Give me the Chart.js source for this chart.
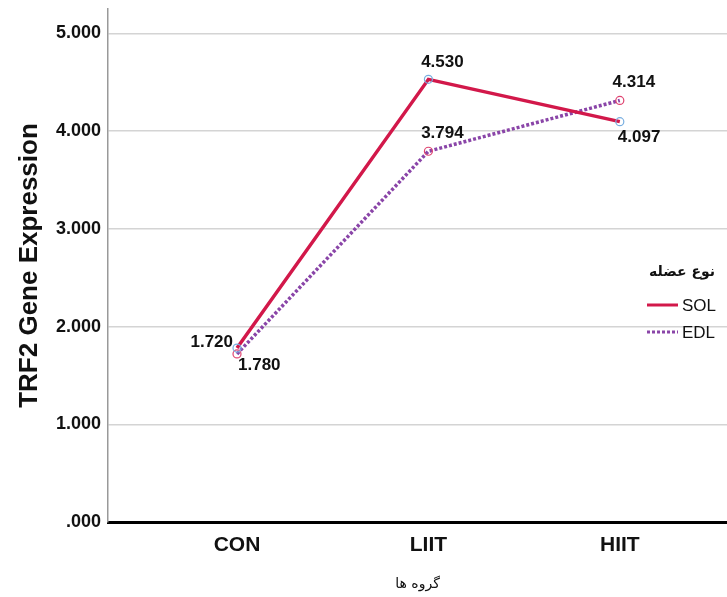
<!DOCTYPE html>
<html>
<head>
<meta charset="utf-8">
<script src="https://cdn.jsdelivr.net/npm/chart.js@4"></script>
<style>
  html, body { margin: 0; padding: 0; background: #fff; }
  #wrap { width: 727px; height: 597px; }
</style>
</head>
<body>
<div id="wrap"><canvas id="lineChart" width="727" height="597"></canvas></div>
<script>
        // Chart data
        const groups = ['CON', 'LIIT', 'HIIT'];
        const solValues = [1.780, 4.530, 4.097];
        const edlValues = [1.720, 3.794, 4.314];
        const yTicks = [0, 1, 2, 3, 4, 5];
        const legendTitle = 'نوع عضله';
        const xTitle = 'گروه ها';
        const yTitle = 'TRF2 Gene Expression';

        const SOL_COLOR = '#d2184a';
        const EDL_COLOR = '#8a45a8';

        // Value labels: where each number sits next to its point
        const labelPlacement = {
            SOL: [{ dx: -4, dy: -6, align: 'right' }, { dx: 14, dy: -17, align: 'center' }, { dx: -2, dy: 16, align: 'left' }],
            EDL: [{ dx: 1, dy: 11, align: 'left' }, { dx: 14, dy: -18, align: 'center' }, { dx: 14, dy: -18, align: 'center' }]
        };
        // SPSS put the numbers slightly swapped at CON; keep the picture's layout
        const labelText = {
            SOL: ['1.720', '4.530', '4.097'],
            EDL: ['1.780', '3.794', '4.314']
        };

        const fmt = v => (v === 0 ? '.000' : v.toFixed(3));

        const valueLabels = {
            id: 'valueLabels',
            afterDatasetsDraw(chart) {
                const { ctx, scales: { x, y } } = chart;
                ctx.save();
                ctx.font = 'bold 17px "Liberation Sans", Arial, sans-serif';
                ctx.fillStyle = '#111';
                ctx.textBaseline = 'middle';
                [['SOL', solValues], ['EDL', edlValues]].forEach(([name, vals]) => {
                    vals.forEach((v, i) => {
                        const p = labelPlacement[name][i];
                        ctx.textAlign = p.align;
                        ctx.fillText(labelText[name][i], x.getPixelForValue(i) + p.dx, y.getPixelForValue(v) + p.dy);
                    });
                });
                ctx.restore();
            }
        };

        const sideLegend = {
            id: 'sideLegend',
            afterDraw(chart) {
                const { ctx } = chart;
                ctx.save();
                ctx.fillStyle = '#111';
                ctx.textBaseline = 'middle';
                ctx.textAlign = 'right';
                ctx.font = 'bold 14px "DejaVu Sans", sans-serif';
                ctx.fillText(legendTitle, 715, 272);
                ctx.font = '17px "Liberation Sans", Arial, sans-serif';
                ctx.textAlign = 'left';
                ctx.fillText('SOL', 682, 306);
                ctx.fillText('EDL', 682, 333);
                ctx.lineWidth = 3;
                ctx.strokeStyle = SOL_COLOR;
                ctx.beginPath();
                ctx.moveTo(647, 305);
                ctx.lineTo(678, 305);
                ctx.stroke();
                ctx.strokeStyle = EDL_COLOR;
                ctx.setLineDash([3, 2]);
                ctx.beginPath();
                ctx.moveTo(647, 332);
                ctx.lineTo(678, 332);
                ctx.stroke();
                ctx.restore();
            }
        };

        const ctx = document.getElementById('lineChart').getContext('2d');
        new Chart(ctx, {
            type: 'line',
            data: {
                datasets: [
                    {
                        label: 'SOL',
                        data: solValues.map((v, i) => ({ x: i, y: v })),
                        borderColor: SOL_COLOR,
                        borderWidth: 3.5,
                        pointRadius: 4,
                        pointBorderWidth: 1.2,
                        pointBackgroundColor: 'rgba(255,255,255,0)',
                        pointBorderColor: '#78aee0',
                        tension: 0
                    },
                    {
                        label: 'EDL',
                        data: edlValues.map((v, i) => ({ x: i, y: v })),
                        borderColor: EDL_COLOR,
                        borderWidth: 3.5,
                        borderDash: [3, 2],
                        pointRadius: 4,
                        pointBorderWidth: 1.2,
                        pointBackgroundColor: 'rgba(255,255,255,0)',
                        pointBorderColor: '#df4470',
                        tension: 0
                    }
                ]
            },
            options: {
                responsive: false,
                animation: false,
                layout: { autoPadding: false, padding: { top: 9, right: 0, left: 10, bottom: 0 } },
                plugins: {
                    legend: { display: false },
                    tooltip: { enabled: false }
                },
                scales: {
                    x: {
                        type: 'linear',
                        min: -0.674,
                        max: 2.56,
                        afterBuildTicks: s => { s.ticks = groups.map((g, i) => ({ value: i })); },
                        afterFit: s => { s.height = 75; s.paddingLeft = 0; s.paddingRight = 0; },
                        grid: { display: false, drawTicks: false },
                        border: { color: '#000', width: 3 },
                        ticks: {
                            callback: v => groups[v],
                            padding: 11,
                            color: '#111',
                            font: { family: '"Liberation Sans", Arial, sans-serif', size: 21, weight: 'bold' }
                        },
                        title: {
                            display: true,
                            text: xTitle,
                            color: '#111',
                            padding: { top: 6 },
                            font: { family: '"DejaVu Sans", sans-serif', size: 14 }
                        }
                    },
                    y: {
                        min: 0,
                        max: 5.25,
                        afterBuildTicks: s => { s.ticks = yTicks.map(v => ({ value: v })); },
                        afterFit: s => { s.width = 98; s.paddingTop = 0; s.paddingBottom = 0; },
                        grid: { color: '#d4d4d4', lineWidth: 1.5, drawTicks: false },
                        border: { color: '#999', width: 1.5 },
                        ticks: {
                            callback: v => fmt(v),
                            padding: 7,
                            color: '#111',
                            font: { family: '"Liberation Sans", Arial, sans-serif', size: 18, weight: 'bold' }
                        },
                        title: {
                            display: true,
                            text: yTitle,
                            color: '#111',
                            padding: { bottom: 2 },
                            font: { family: '"Liberation Sans", Arial, sans-serif', size: 26, weight: 'bold' }
                        }
                    }
                }
            },
            plugins: [valueLabels, sideLegend]
        });
</script>
</body>
</html>
